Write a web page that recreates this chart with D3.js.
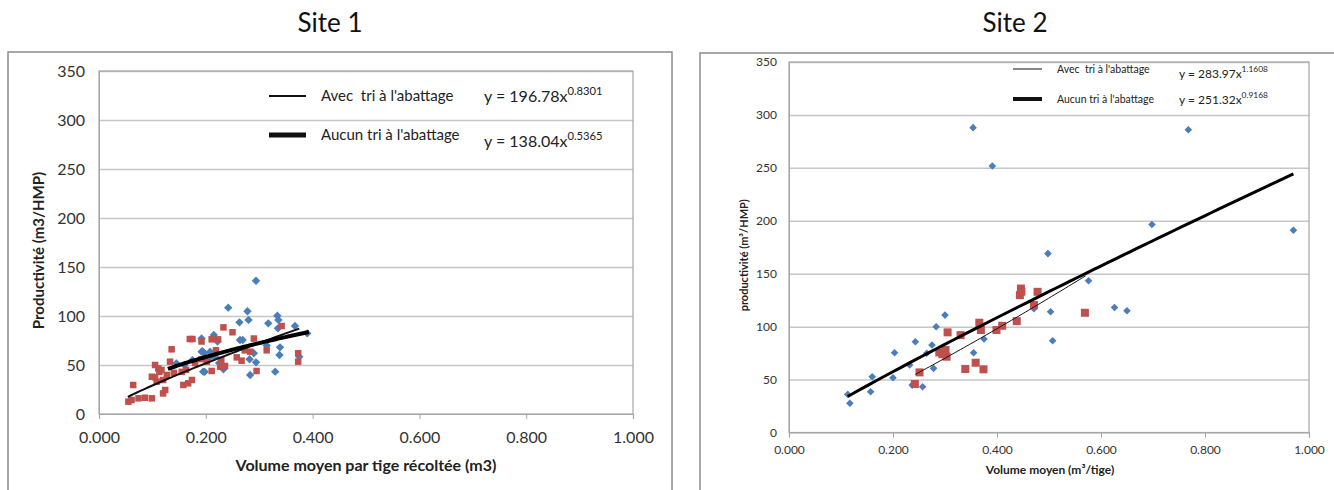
<!DOCTYPE html>
<html>
<head>
<meta charset="utf-8">
<script src="https://cdn.jsdelivr.net/npm/d3@7"></script>
<style>
  body { margin: 0; background: #fff; }
  svg { font-family: Lato, "Open Sans", sans-serif; }
</style>
</head>
<body>
<svg id="svg" width="1334" height="490"></svg>
<script>

// ticks
var xTicks = [0, 0.2, 0.4, 0.6, 0.8, 1.0];
var yTicks = [0, 50, 100, 150, 200, 250, 300, 350];

// Site 1 (volume, productivity)
var site1Blue = [[0.145,51.7],[0.160,50],[0.175,55],[0.192,77],[0.192,63.6],[0.197,62],[0.198,43],[0.194,64],
  [0.195,43.2],[0.208,63.6],[0.215,80.6],[0.217,58.5],[0.222,74],[0.233,45.6],[0.242,108.5],[0.263,93.5],
  [0.264,75.5],[0.269,75.5],[0.278,104.8],[0.280,96],[0.282,55.8],[0.283,39.8],[0.290,62],[0.294,52.7],
  [0.294,136],[0.314,70],[0.317,92.5],[0.330,43.2],[0.334,100.3],[0.336,96],[0.335,87.4],[0.338,60.2],
  [0.339,68],[0.367,89.8],[0.375,58.5],[0.390,82.3],[0.206,57],[0.225,52]];
var site1Red = [[0.055,12.6],[0.061,14.3],[0.064,29.6],[0.074,16],[0.086,16.6],[0.099,16],[0.099,38],[0.105,37.4],
  [0.105,50],[0.108,33],[0.111,46.6],[0.113,43],[0.117,44.9],[0.120,21],[0.124,24.5],[0.120,34.7],[0.127,39.8],
  [0.133,53.4],[0.136,66],[0.140,42],[0.155,43],[0.158,29.6],[0.163,45],[0.167,31.3],[0.170,76.5],[0.174,34.7],
  [0.175,76.5],[0.180,52],[0.192,74],[0.192,56],[0.202,53.4],[0.211,76.2],[0.211,43.9],[0.219,65],[0.223,76.2],
  [0.227,48.3],[0.229,55],[0.233,88.4],[0.236,49],[0.250,83.4],[0.258,57.8],[0.267,54.4],[0.273,65],[0.283,63.6],
  [0.290,77],[0.295,43.9],[0.314,65],[0.342,89.8],[0.373,62],[0.373,53.4]];
// trend lines: [coef, exponent, xmin, xmax]
var site1Thin = [196.78, 0.8301, 0.054, 0.375];
var site1Thick = [138.04, 0.5365, 0.129, 0.393];
var site1Legend = ["Avec  tri à l'abattage", "Aucun tri à l'abattage"];
var site1Eq = [["y = 196.78x", "0.8301"], ["y = 138.04x", "0.5365"]];

// Site 2
var site2Blue = [[0.113,36],[0.117,27.6],[0.160,52.7],[0.157,38.5],[0.200,51.7],[0.203,75.3],[0.232,63.7],
  [0.243,85.7],[0.237,44.8],[0.257,43.2],[0.265,74.8],[0.275,82.6],[0.278,60.6],[0.283,99.9],[0.300,110.9],
  [0.354,288],[0.355,75.3],[0.375,88.3],[0.391,251.8],[0.471,117],[0.498,169],[0.503,114],[0.507,86.7],
  [0.576,143.3],[0.626,118.1],[0.650,115],[0.698,196.5],[0.768,286],[0.970,191]];
var site2Red = [[0.242,45.8],[0.251,56.8],[0.289,75.7],[0.301,77.9],[0.303,71.6],[0.295,74],[0.305,94.6],
  [0.330,92],[0.339,60],[0.359,65.9],[0.374,59.7],[0.366,103.7],[0.369,96.8],[0.399,96.8],[0.410,100.8],
  [0.438,105.2],[0.444,129.8],[0.446,136],[0.447,133],[0.471,120.4],[0.478,132.9],[0.569,113.1]];
var site2Thin = [283.97, 1.1608, 0.243, 0.570];
var site2Thick = [251.32, 0.9168, 0.113, 0.970];
var site2Legend = ["Avec  tri à l'abattage", "Aucun tri à l'abattage"];
var site2Eq = [["y = 283.97x", "1.1608"], ["y = 251.32x", "0.9168"]];

var blue = "#4a7ebb", red = "#c0504d";
var svg = d3.select("#svg");

function powerLine(t){
  var pts = [];
  for (var i = 0; i <= 60; i++) {
    var x = t[2] + (t[3] - t[2]) * i / 60;
    pts.push([x, t[0] * Math.pow(x, t[1])]);
  }
  return pts;
}

function drawSite(c){
  // outer chart frame
  svg.append("rect").attr("x", c.box[0]).attr("y", c.box[1]).attr("width", c.box[2]).attr("height", c.box[3])
    .attr("fill", "none").attr("stroke", "#8c8c8c").attr("stroke-width", 1.5);

  svg.append("text").attr("x", c.titleX).attr("y", 32).attr("text-anchor", "middle")
    .attr("font-size", 26).attr("fill", "#111").text(c.title);

  var x = d3.scaleLinear().domain([0, 1]).range([c.left, c.right]);
  var y = d3.scaleLinear().domain([0, 350]).range([c.bottom, c.top]);

  // grid
  svg.append("g").attr("transform", "translate(" + c.left + ",0)")
    .call(d3.axisLeft(y).tickValues(yTicks.slice(1)).tickSize(-(c.right - c.left)).tickFormat(""))
    .call(g => g.select(".domain").remove())
    .call(g => g.selectAll("line").attr("stroke", "#c6c6c6").attr("stroke-width", 1.5));

  // plot border
  svg.append("rect").attr("x", c.left).attr("y", c.top).attr("width", c.right - c.left).attr("height", c.bottom - c.top)
    .attr("fill", "none").attr("stroke", "#a6a6a6").attr("stroke-width", 1.2);

  // y axis labels
  svg.append("g").attr("transform", "translate(" + c.left + ",0)")
    .call(d3.axisLeft(y).tickValues(yTicks).tickSize(0).tickPadding(c.yPad).tickFormat(d3.format("d")))
    .call(g => g.select(".domain").attr("stroke", "#a6a6a6"))
    .call(g => g.selectAll("text").attr("font-size", c.tickFont).attr("fill", "#333").attr("font-family", "Lato"));

  // x axis
  svg.append("g").attr("transform", "translate(0," + c.bottom + ")")
    .call(d3.axisBottom(x).tickValues(xTicks).tickSize(5).tickPadding(c.xPad).tickFormat(d3.format(".3f")))
    .call(g => g.select(".domain").attr("stroke", "#a6a6a6").attr("stroke-width", 1.2))
    .call(g => g.selectAll("line").attr("stroke", "#a6a6a6"))
    .call(g => g.selectAll("text").attr("font-size", c.tickFont).attr("fill", "#333").attr("font-family", "Lato"));

  // axis titles
  svg.append("text").attr("transform", "translate(" + c.yTitleX + "," + ((c.top + c.bottom) / 2 + 8) + ") rotate(-90)")
    .attr("text-anchor", "middle").attr("font-weight", "bold").attr("font-size", c.titleFont).attr("fill", "#222")
    .text(c.yTitle);
  svg.append("text").attr("x", c.xTitleX).attr("y", c.xTitleY)
    .attr("text-anchor", "middle").attr("font-weight", "bold").attr("font-size", c.titleFont + 1).attr("fill", "#222")
    .text(c.xTitle);

  // points
  var d = c.dia;
  svg.append("g").selectAll("path").data(c.blue).enter().append("path")
    .attr("d", p => {
      var px = x(p[0]), py = y(p[1]);
      return "M" + px + "," + (py - d) + "L" + (px + d) + "," + py + "L" + px + "," + (py + d) + "L" + (px - d) + "," + py + "Z";
    })
    .attr("fill", blue);
  svg.append("g").selectAll("rect").data(c.red).enter().append("rect")
    .attr("x", p => x(p[0]) - c.sq / 2).attr("y", p => y(p[1]) - c.sq / 2)
    .attr("width", c.sq).attr("height", c.sq).attr("fill", red);

  // trend lines
  var line = d3.line().x(p => x(p[0])).y(p => y(p[1]));
  svg.append("path").datum(powerLine(c.thin)).attr("d", line)
    .attr("fill", "none").attr("stroke", "#111").attr("stroke-width", c.thinW);
  svg.append("path").datum(powerLine(c.thick)).attr("d", line)
    .attr("fill", "none").attr("stroke", "#000").attr("stroke-width", c.thickW);

  // legend
  var lg = c.legend;
  [0, 1].forEach(i => {
    var ly = lg.y[i];
    svg.append("line").attr("x1", lg.x0).attr("x2", lg.x1).attr("y1", ly).attr("y2", ly)
      .attr("stroke", "#111").attr("stroke-width", i == 0 ? c.thinW : c.thickW + 1);
    svg.append("text").attr("x", lg.tx).attr("y", ly + lg.font * 0.35).attr("font-size", lg.font)
      .attr("fill", "#222").attr("xml:space", "preserve").text(c.names[i]);
    var t = svg.append("text").attr("x", lg.ex).attr("y", ly + lg.font * 0.35 + lg.eqDy[i]).attr("font-size", lg.eqFont).attr("fill", "#222");
    t.append("tspan").text(c.eq[i][0]);
    t.append("tspan").attr("dy", -lg.eqFont * 0.45).attr("font-size", lg.eqFont * 0.7).text(c.eq[i][1]);
  });
}

drawSite({
  title: "Site 1", titleX: 330, box: [8, 52, 664, 450],
  left: 99, right: 633, top: 71, bottom: 414,
  tickFont: 16, yPad: 14, xPad: 13, titleFont: 15,
  yTitle: "Productivité (m3/HMP)", yTitleX: 44,
  xTitle: "Volume moyen par tige récoltée (m3)", xTitleX: 366, xTitleY: 471,
  blue: site1Blue, red: site1Red, dia: 4.2, sq: 6.5,
  thin: site1Thin, thick: site1Thick, thinW: 2, thickW: 4,
  names: site1Legend, eq: site1Eq,
  legend: { x0: 269, x1: 306, tx: 321, ex: 484, y: [96, 135], font: 15, eqFont: 16, eqDy: [1, 7] }
});

drawSite({
  title: "Site 2", titleX: 1015, box: [700, 53, 640, 450],
  left: 789, right: 1309, top: 62, bottom: 432.5,
  tickFont: 12, yPad: 12, xPad: 8, titleFont: 11,
  yTitle: "productivité (m³/HMP)", yTitleX: 748,
  xTitle: "Volume moyen (m³/tige)", xTitleX: 1050, xTitleY: 474,
  blue: site2Blue, red: site2Red, dia: 3.8, sq: 8,
  thin: site2Thin, thick: site2Thick, thinW: 1, thickW: 3,
  names: site2Legend, eq: site2Eq,
  legend: { x0: 1013, x1: 1042, tx: 1057, ex: 1179, y: [69, 99], font: 10.5, eqFont: 12, eqDy: [5, 1] }
});

</script>
</body>
</html>
